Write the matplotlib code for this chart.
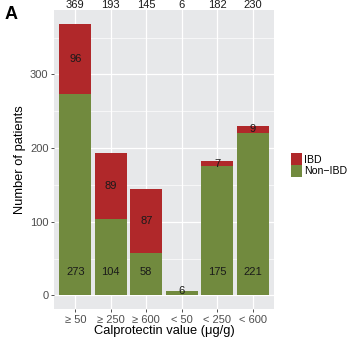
import matplotlib
matplotlib.use("Agg")
import matplotlib.pyplot as plt
from matplotlib.patches import Patch
from matplotlib.transforms import blended_transform_factory
import numpy as np

plt.rcParams['font.family'] = ['Liberation Sans', 'DejaVu Sans']

categories = ["\u2265 50", "\u2265 250", "\u2265 600", "< 50", "< 250", "< 600"]
non_ibd = np.array([273, 104, 58, 6, 175, 221])
ibd = np.array([96, 89, 87, 0, 7, 9])
totals = non_ibd + ibd

red = "#B0282A"
green = "#718A3E"
panel_bg = "#E7E8EA"

fig = plt.figure(figsize=(3.47, 3.42), dpi=100)
ax = fig.add_axes([54/347, 1-309/342, 220/347, 299/342])
ax.set_facecolor(panel_bg)

x = np.arange(1, len(categories)+1)
ax.bar(x, non_ibd, width=0.9, color=green, zorder=3)
ax.bar(x, ibd, bottom=non_ibd, width=0.9, color=red, zorder=3)

lab_fs = 8.0
top_tr = blended_transform_factory(ax.transData, fig.transFigure)
for xi, n, i, t in zip(x, non_ibd, ibd, totals):
    ax.text(xi, min(n, 32), str(n), ha='center', va='center', fontsize=lab_fs, color='#1a1a1a', zorder=4)
    if i > 0:
        ax.text(xi, n + i/2, str(i), ha='center', va='center', fontsize=lab_fs, color='#1a1a1a', zorder=4)
    ax.text(xi, 1-5.5/342, str(t), transform=top_tr, ha='center', va='center',
            fontsize=lab_fs, color='#1a1a1a', clip_on=False)

ymax = totals.max()
ax.set_ylim(-0.05*ymax, 1.05*ymax)
ax.set_xlim(0.4, 6.6)
ax.set_yticks([0, 100, 200, 300])
ax.set_yticks([50, 150, 250, 350], minor=True)
ax.set_xticks(x)
ax.set_xticklabels(categories)
ax.grid(True, which='major', color='white', linewidth=0.9, zorder=0)
ax.grid(True, which='minor', axis='y', color='white', linewidth=0.45, zorder=0)
ax.set_axisbelow(True)
for s in ax.spines.values():
    s.set_visible(False)
ax.tick_params(axis='both', which='major', length=2.5, width=0.6, color='#333333',
               labelsize=8.0, labelcolor='#4d4d4d', pad=1.5)
ax.tick_params(axis='both', which='minor', length=0)

ax.set_ylabel("Number of patients", fontsize=9.3, color='black', labelpad=3)
ax.set_xlabel("Calprotectin value (\u03bcg/g)", fontsize=9.3, color='black', labelpad=0)

fig.text(11/347, 1-14.5/342, "A", fontsize=13, fontweight='bold', ha='center', va='center')

handles = [Patch(facecolor=red, edgecolor='none', label='IBD'),
           Patch(facecolor=green, edgecolor='none', label='Non\u2212IBD')]
fig.legend(handles=handles, loc='center left', bbox_to_anchor=(286/347, 1-165/342),
           frameon=False, fontsize=7.6, handlelength=1.0, handleheight=1.35,
           handletextpad=0.25, labelspacing=0.0, borderpad=0)

fig.savefig("out.png", dpi=100)
